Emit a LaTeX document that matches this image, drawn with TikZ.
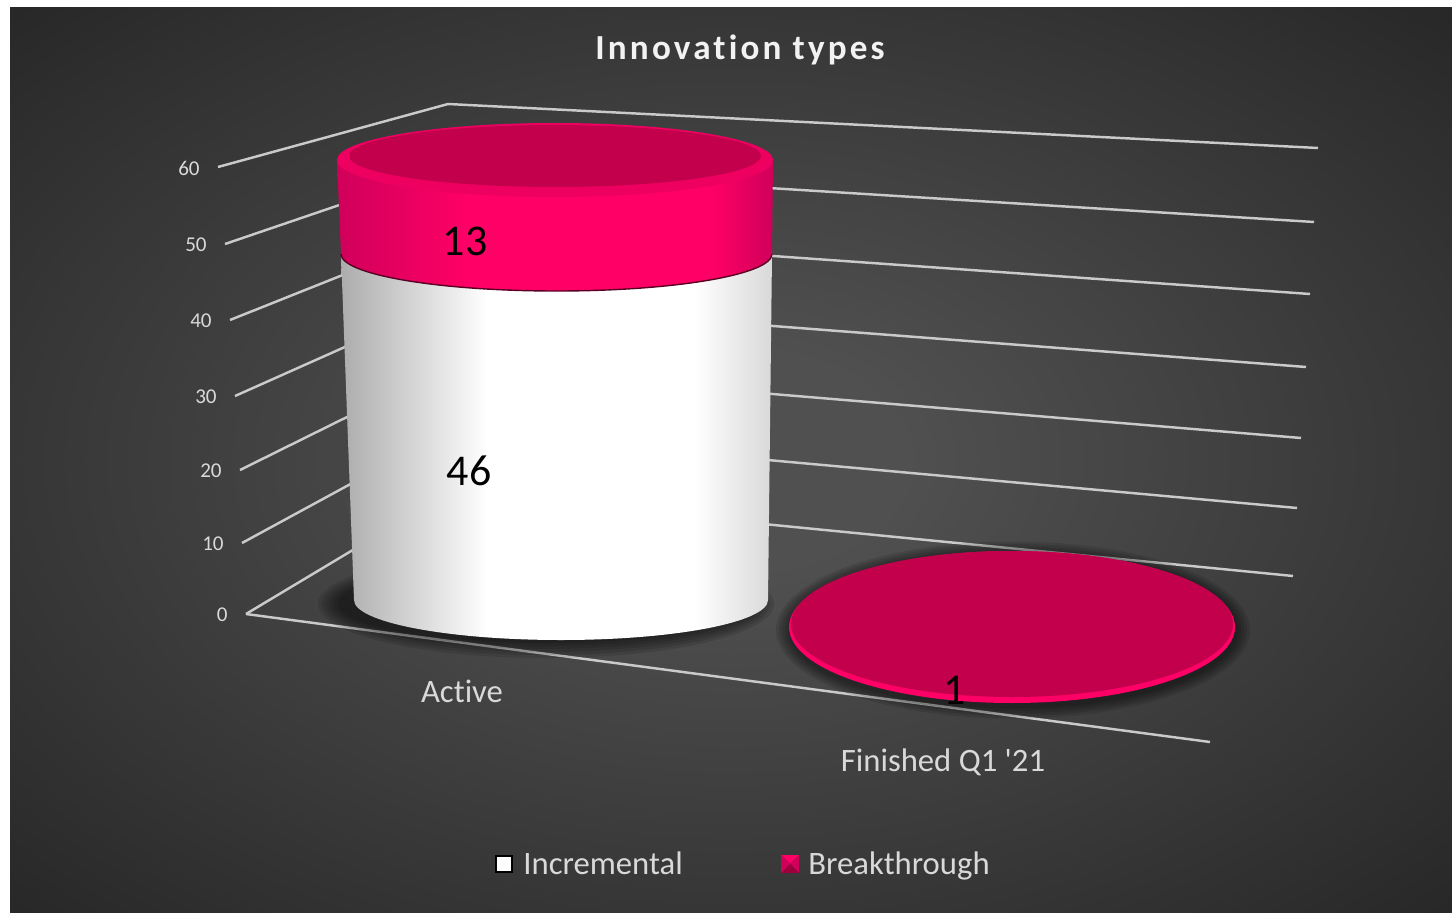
\documentclass[tikz,border=0pt]{standalone}
\usepackage{fontspec}
\setmainfont{Carlito}[Ligatures={TeX,NoCommon}]
\definecolor{bgin}{HTML}{505050}
\definecolor{bgout}{HTML}{242424}
\definecolor{gridgray}{HTML}{CACACA}
\definecolor{labelgray}{HTML}{D9D9D9}
\definecolor{pinktop}{HTML}{C2004B}
\definecolor{pinkside}{HTML}{FF0066}
\definecolor{pinkedge}{HTML}{D0005A}
\definecolor{pinkrim}{HTML}{EE0060}
\definecolor{pinkdark}{HTML}{5A0022}
\pgfdeclareradialshading{chartbg}{\pgfpoint{0bp}{0bp}}{color(0bp)=(bgin); color(6bp)=(bgin); color(38bp)=(bgout); color(50bp)=(bgout)}
\pgfdeclarehorizontalshading{whiteside}{100bp}{color(0bp)=(gray!65); color(25bp)=(gray!65); color(42bp)=(white); color(66bp)=(white); color(75bp)=(gray!30); color(100bp)=(gray!30)}
\pgfdeclarehorizontalshading{pinkband}{100bp}{color(0bp)=(pinkedge); color(25bp)=(pinkedge); color(40bp)=(pinkside); color(68bp)=(pinkside); color(75bp)=(pinkedge); color(100bp)=(pinkedge)}
\begin{document}
\begin{tikzpicture}[x=0.02cm, y=-0.02cm,
    grid/.style={draw=gridgray, line width=1.4pt},
    axislabel/.style={anchor=east, text=labelgray, inner sep=0pt, font=\fontsize{12}{14}\selectfont},
    catlabel/.style={text=labelgray, inner sep=0pt, font=\fontsize{18.6}{22}\selectfont},
    value/.style={text=black, inner sep=0pt, font=\fontsize{25}{30}\selectfont},
    halo/.style={fill=black, opacity=0.11}
]
    \useasboundingbox (0,0) rectangle (1452,912);
    \fill[white] (0,0) rectangle (1452,912);
    \shade[shading=chartbg] (10,8) rectangle (1452,912);

    % Title
    \node[text=white!95!black, font=\bfseries\fontsize{20}{24}\selectfont] (title) at (740,50) {\addfontfeatures{LetterSpace=9}Innovation types};

    % Walls and axis
    \foreach \v/\lx/\ly/\by/\rx/\ry in {60/218/167/104/1318/148, 50/225/244/168/1314/222,
        40/230/320/233/1310/294, 30/235/396/301/1306/367, 20/240/470/367/1301/438,
        10/242/543/431/1297/508, 0/246/614/493/1293/576} {
        \draw[grid] (\lx,\ly) -- (448,\by) -- (\rx,\ry);
        \node[axislabel] (tick\v) at (\lx-18,\ly+1) {\v};
    }
    \draw[grid] (246,614) -- (1210,742);

    % Active
    \foreach \s in {1,...,6}
        \fill[halo] (546,604) ellipse [x radius=204+4*\s, y radius=36+3*\s];
    \shade[shading=whiteside] (341,254) -- (354,600)
        arc [start angle=180, end angle=0, x radius=207, y radius=40] -- (772,254) -- cycle;
    \shade[shading=pinkband] (337,160) -- (341,254)
        arc [start angle=180, end angle=0, x radius=215.5, y radius=37] -- (773,160) -- cycle;
    \draw[pinkdark, line width=0.8pt] (341,254)
        arc [start angle=180, end angle=0, x radius=215.5, y radius=37];
    \fill[pinkrim] (555,160) ellipse [x radius=218, y radius=37];
    \fill[pinktop] (555,156) ellipse [x radius=206, y radius=31];
    \node[value] (v13) at (465,241) {13};
    \node[value] (v46) at (469,471) {46};
    \node[catlabel] (active) at (462,691) {Active};

    % Finished Q1 '21
    \foreach \s in {1,...,5}
        \fill[halo] (1013,630) ellipse [x radius=222+3*\s, y radius=76+2.5*\s];
    \fill[pinkside] (1012,627) ellipse [x radius=223, y radius=76];
    \fill[pinktop] (1012,624) ellipse [x radius=221, y radius=73];
    \node[value] (v1) at (955,690) {1};
    \node[catlabel] (finished) at (943,762) {Finished Q1 \textquotesingle 21};

    % Legend
    \node[draw=black, fill=white, line width=1.2pt, minimum size=0.33cm, inner sep=0pt] (incbox) at (504,864) {};
    \node[catlabel, anchor=base west] (inclabel) at (523,874) {Incremental};
    \coordinate (bk1) at (781,855);
    \coordinate (bk2) at (799,855);
    \coordinate (bk3) at (799,873);
    \coordinate (bk4) at (781,873);
    \coordinate (bkc) at (790,864);
    \fill[pinkside] (bk1) -- (bk2) -- (bkc) -- cycle;
    \fill[pinkedge] (bk2) -- (bk3) -- (bkc) -- cycle;
    \fill[pinktop!80!black] (bk3) -- (bk4) -- (bkc) -- cycle;
    \fill[pinkedge] (bk4) -- (bk1) -- (bkc) -- cycle;
    \node[catlabel, anchor=base west] (brklabel) at (808,874) {Breakthrough};
\end{tikzpicture}
\end{document}
